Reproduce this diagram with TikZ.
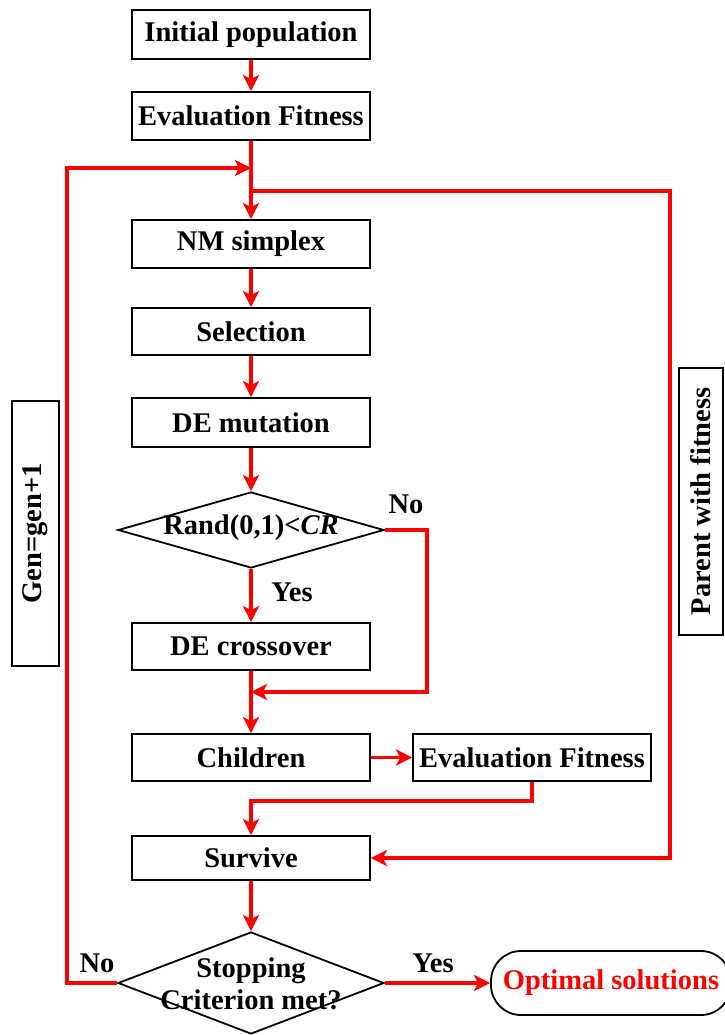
\documentclass[tikz,border=0pt]{standalone}
\usepackage{fontspec}
\setmainfont{Liberation Serif}
\usetikzlibrary{arrows.meta,shapes.geometric}
\begin{document}
\begin{tikzpicture}[x=1pt,y=-1pt,
 box/.style={draw=black, line width=1.8pt, minimum width=238pt, inner sep=0pt, font=\fontsize{28.5}{32}\selectfont\bfseries},
 dia/.style={draw=black, line width=1.8pt, diamond, inner sep=0pt},
 txt/.style={font=\fontsize{28.5}{32}\selectfont\bfseries, inner sep=0pt},
 flow/.style={draw=red, line width=3.3pt, -{Stealth[length=16pt,width=16pt,inset=4pt]}},
]
\useasboundingbox (0,0) rectangle (724,1035);
% boxes
\node[box, minimum height=49pt] (init) at (251,34.5) {Initial population};
\node[box, minimum height=48pt] (ef1) at (251,116) {Evaluation Fitness};
\node[box, minimum height=48pt] (nm) at (251,244) {NM simplex};
\node[box, minimum height=47pt] (sel) at (251,331.5) {Selection};
\node[box, minimum height=49pt] (mut) at (251,422.5) {DE mutation};
\node[dia, minimum width=266pt, minimum height=76pt] (rand) at (251,530) {};
\node[txt] (randt) at (251,528) {Rand(0,1)<\textit{CR}};
\node[box, minimum height=47pt] (cross) at (251,646.5) {DE crossover};
\node[box, minimum height=47pt] (child) at (251,757.5) {Children};
\node[box, minimum height=47pt] (ef2) at (532,757.5) {Evaluation Fitness};
\node[box, minimum height=44pt] (surv) at (251,858) {Survive};
\node[dia, minimum width=266pt, minimum height=102pt] (stop) at (251,983) {};
\node[txt, align=center] (stopt) at (251,984) {Stopping\\Criterion met?};
\node[box, rounded corners=30pt, minimum width=240pt, minimum height=64pt, text=red] (opt) at (611,983) {Optimal solutions};
\node[box, rotate=90, minimum width=265pt, minimum height=47pt] (gen) at (35.5,533.5) {Gen=gen+1};
\node[box, rotate=90, minimum width=267pt, minimum height=44pt] (par) at (701,501.5) {Parent with fitness};
% labels
\node[txt] (no1) at (406,504) {No};
\node[txt] (yes1) at (292,592) {Yes};
\node[txt] (no2) at (97,963) {No};
\node[txt] (yes2) at (433,963) {Yes};
% coordinates
\coordinate (j1) at (251,168);
\coordinate (j2) at (251,191);
\coordinate (lb) at (67,983);
\coordinate (lt) at (67,168);
\coordinate (rt) at (670,191);
\coordinate (rb) at (670,858);
\coordinate (nr) at (427,530);
\coordinate (nb) at (427,692);
\coordinate (j3) at (251,692);
% connectors
\draw[flow] (init) -- (ef1);
\draw[flow] (ef1) -- (nm);
\draw[flow] (stop.west) -- (lb) -- (lt) -- (j1);
\draw[flow] (j2) -- (rt) -- (rb) -- (surv.east);
\draw[flow] (nm) -- (sel);
\draw[flow] (sel) -- (mut);
\draw[flow] (mut) -- (rand.north);
\draw[flow] (rand.south) -- (cross);
\draw[flow] (rand.east) -- (nr) -- (nb) -- (j3);
\draw[flow] (cross) -- (child);
\draw[flow] (child) -- (ef2);
\draw[flow] (ef2.south) -- ++(0,19) -| (surv.north);
\draw[flow] (surv) -- (stop.north);
\draw[flow] (stop.east) -- (opt.west);
\end{tikzpicture}
\end{document}
